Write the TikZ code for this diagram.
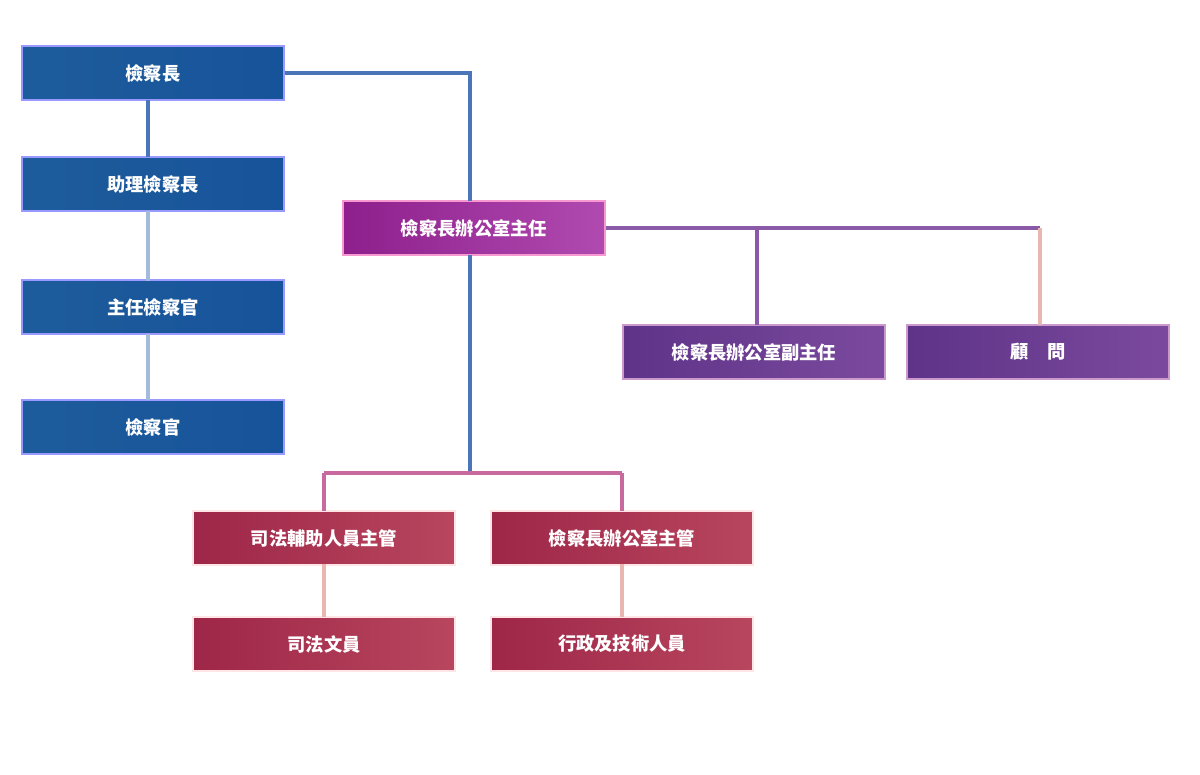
\documentclass[tikz,border=0pt]{standalone}
\usepackage{fontspec}
\newfontfamily\cjk{Noto Sans CJK TC}
\begin{document}
\begin{tikzpicture}[x=0.025cm,y=-0.025cm,
  box/.style={draw=#1!40!white,line width=1.2pt,minimum width=6.55cm,minimum height=1.35cm,inner sep=0pt,
    font=\cjk\bfseries\fontsize{13}{15}\selectfont,text=white},
  blue/.style={box=blue,left color=blu1,right color=blu2},
  mag/.style={box=magenta,left color=mag1,right color=mag2},
  vio/.style={box=violet,left color=vio1,right color=vio2},
  red/.style={box=pink,left color=red1,right color=red2},
  ln/.style={line width=3pt,draw=#1}]
\definecolor{blu1}{HTML}{1D5C9C}\definecolor{blu2}{HTML}{17539A}
\definecolor{mag1}{HTML}{8E1F8C}\definecolor{mag2}{HTML}{B04AB0}
\definecolor{vio1}{HTML}{5E3388}\definecolor{vio2}{HTML}{7B4A9E}
\definecolor{red1}{HTML}{9E2648}\definecolor{red2}{HTML}{B8465E}
\definecolor{lb}{HTML}{4A75B8}\definecolor{lp}{HTML}{C86A9E}\definecolor{lv}{HTML}{8A5AA8}\definecolor{lr}{HTML}{E8B8B0}
\useasboundingbox (0,0) rectangle (1200,774);
\node[blue] (a) at (153,73) {檢察長};
\node[blue] (b) at (153,184) {助理檢察長};
\node[blue] (c) at (153,307) {主任檢察官};
\node[blue] (d) at (153,427) {檢察官};
\node[mag] (m) at (474,228) {檢察長辦公室主任};
\node[vio] (v1) at (754,352) {檢察長辦公室副主任};
\node[vio] (v2) at (1038,352) {顧\quad 問};
\node[red] (r1) at (324,538) {司法輔助人員主管};
\node[red] (r2) at (622,538) {檢察長辦公室主管};
\node[red] (r3) at (324,644) {司法文員};
\node[red] (r4) at (622,644) {行政及技術人員};
\coordinate (j1) at (470,73);
\coordinate (j2) at (470,473);
\coordinate (j3) at (324,473);
\coordinate (j4) at (622,473);
\coordinate (j5) at (757,228);
\coordinate (j6) at (1040,228);
\begin{scope}[on background layer/.try]
\draw[ln=lb] (a.east) -- (j1) -- (470,201);
\draw[ln=lb] (148,100) -- (148,157);
\draw[ln=lb!50!white] (148,211) -- (148,281);
\draw[ln=lb!50!white] (148,334) -- (148,400);
\draw[ln=lb] (470,255) -- (j2);
\draw[ln=lp] (j3) -- (j4);
\draw[ln=lp] (j3) -- (324,511);
\draw[ln=lp] (j4) -- (622,511);
\draw[ln=lv] (m.east) -- (j6);
\draw[ln=lv] (j5) -- (757,325);
\draw[ln=lr] (j6) -- (1040,325);
\draw[ln=lr] (324,564) -- (324,617);
\draw[ln=lr] (622,564) -- (622,617);
\end{scope}
\end{tikzpicture}
\end{document}
